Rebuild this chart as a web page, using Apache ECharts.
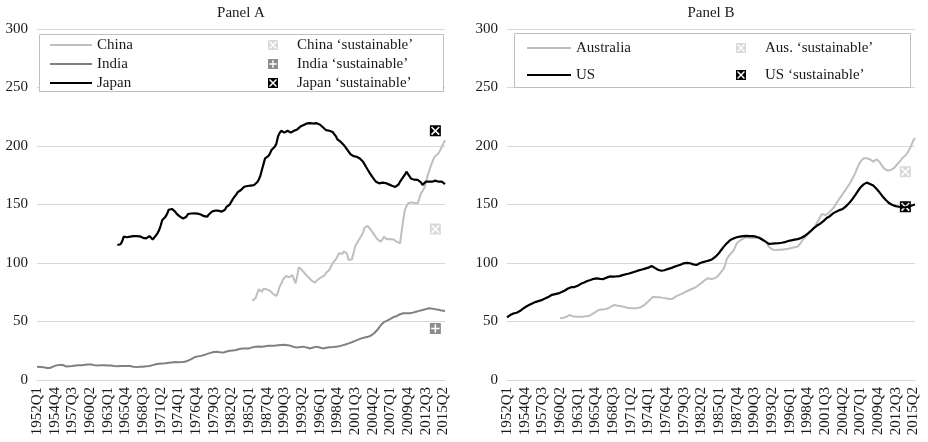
<!DOCTYPE html>
<html>
<head>
<meta charset="utf-8">
<script src="https://cdn.jsdelivr.net/npm/echarts@6/dist/echarts.min.js"></script>
<style>
html, body { margin: 0; padding: 0; background: #fff; }
#debtChart { width: 928px; height: 442px; }
</style>
</head>
<body>
<div id="debtChart"></div>
<script>
// quarterly labels 1952Q1 .. 2015Q3
const quarters = [];
for (let y = 1952; y <= 2015; y++) {
  for (let q = 1; q <= 4; q++) quarters.push(y + "Q" + q);
}
quarters.splice(quarters.indexOf("2015Q3") + 1);

// Panel A
const chinaStart = "1985Q3";
const china = [
  67.8, 68.8,
  69.8, 71.0, 77.5, 76.0,
  75.5, 78.0, 77.0, 77.5,
  77.0, 76.4, 75.0, 73.5,
  72.5, 71.8, 75.0, 79.7,
  82.0, 85.5, 87.0, 88.9,
  88.5, 87.8, 88.8, 89.7,
  86.0, 82.6, 89.0, 96.3,
  95.5, 94.0, 92.3, 90.6,
  89.5, 87.8, 86.2, 84.9,
  84.0, 83.2, 84.5, 86.0,
  86.5, 87.8, 88.0, 89.5,
  91.7, 92.5, 94.0, 97.0,
  99.7, 101.0, 103.1, 105.5,
  108.3, 108.0, 107.8, 110.0,
  111.7, 108.0, 102.6, 102.8,
  103.1, 108.0, 114.0, 116.5,
  119.0, 121.0, 122.4, 126.0,
  130.5, 131.0, 131.6, 130.5,
  128.2, 126.0, 124.0, 122.0,
  120.2, 119.0, 118.2, 120.0,
  122.5, 121.0, 120.2, 121.2,
  120.5, 121.0, 120.0, 119.0,
  118.2, 117.5, 116.8, 116.2,
  136.8, 145.3, 148.5, 151.0,
  151.5, 151.8, 151.6, 151.2,
  150.8, 151.0, 155.0, 159.5,
  161.5, 163.8, 168.0, 173.8,
  178.0, 182.3, 186.0, 189.5,
  191.5, 193.0, 193.8, 196.5,
  199.4, 202.0, 205.0
];

const indiaStart = "1952Q1";
const india = [
  11.4, 11.3, 11.2, 11.2,
  11.0, 10.6, 10.3, 10.0,
  10.3, 10.8, 11.4, 12.0,
  12.5, 12.8, 12.9, 12.8,
  12.8, 12.3, 11.6, 11.5,
  11.8, 12.2, 12.0, 12.3,
  12.4, 12.5, 12.6, 12.5,
  12.7, 12.8, 13.0, 12.9,
  13.2, 13.4, 13.2, 12.8,
  12.5, 12.2, 12.3, 12.5,
  12.6, 12.8, 12.7, 12.5,
  12.4, 12.2, 12.3, 12.1,
  11.9, 11.8, 11.7, 11.8,
  11.9, 12.0, 12.0, 12.1,
  12.0, 11.9, 12.0, 11.6,
  11.3, 11.1, 11.0, 11.1,
  11.3, 11.2, 11.4, 11.5,
  11.7, 11.8, 12.0, 12.3,
  12.7, 13.1, 13.4, 13.6,
  13.8, 14.0, 14.2, 14.3,
  14.4, 14.6, 14.7, 14.8,
  15.0, 15.2, 15.3, 15.4,
  15.2, 15.0, 15.3, 15.4,
  15.6, 16.0, 16.5, 17.1,
  17.8, 18.6, 19.4, 20.0,
  20.2, 20.4, 20.6, 20.8,
  21.3, 21.8, 22.3, 22.8,
  23.2, 23.6, 24.0, 24.1,
  24.2, 24.0, 23.7, 23.5,
  23.4, 23.8, 24.4, 24.8,
  25.0, 25.1, 25.3, 25.5,
  25.6, 26.0, 26.5, 26.8,
  27.0, 27.1, 26.9, 27.0,
  27.0, 27.4, 27.9, 28.2,
  28.5, 28.4, 28.6, 28.5,
  28.4, 28.5, 28.8, 29.1,
  29.3, 29.2, 29.3, 29.4,
  29.3, 29.5, 29.8, 30.0,
  30.0, 30.2, 30.1, 29.9,
  29.7, 29.6, 29.2, 28.6,
  28.2, 27.9, 27.8, 28.1,
  28.3, 28.4, 28.5, 28.2,
  27.7, 27.3, 27.0, 27.4,
  27.8, 28.2, 28.5, 28.2,
  27.8, 27.4, 27.0, 27.2,
  27.5, 27.7, 27.9, 28.0,
  28.1, 28.3, 28.5, 28.7,
  28.9, 29.2, 29.6, 30.0,
  30.4, 30.8, 31.3, 31.8,
  32.3, 32.8, 33.4, 34.0,
  34.5, 35.0, 35.6, 36.0,
  36.3, 36.6, 36.9, 37.3,
  38.0, 39.0, 40.2, 41.3,
  43.0, 45.0, 46.8, 48.4,
  49.5, 50.2, 50.8, 51.3,
  52.2, 53.0, 53.8, 54.4,
  54.7, 55.5, 56.2, 56.8,
  57.0, 57.2, 57.0, 57.0,
  57.0, 57.3, 57.6, 58.0,
  58.4, 58.8, 59.1, 59.5,
  59.8, 60.2, 60.6, 61.0,
  61.3, 61.2, 61.0, 60.7,
  60.4, 60.3, 60.0, 59.6,
  59.3, 59.0, 59.0
];

const japanStart = "1964Q3";
const japan = [
  115.4, 116.0,
  116.0, 118.5, 122.5, 121.5,
  122.0, 121.6, 122.5, 122.0,
  123.0, 122.5, 123.0, 124.0,
  122.8, 121.6, 121.5, 121.3,
  121.0, 121.8, 123.0, 121.4,
  120.0, 121.0, 123.5, 125.4,
  128.0, 132.0, 136.8, 138.0,
  139.6, 142.0, 145.5, 146.7,
  146.2, 145.7, 144.0, 142.0,
  140.5, 139.6, 138.5, 138.0,
  137.3, 139.5, 141.9, 142.2,
  142.3, 142.9, 142.4, 141.9,
  142.2, 142.4, 141.5, 140.8,
  140.0, 140.5, 139.6, 141.5,
  142.9, 144.0, 144.7, 144.8,
  144.6, 144.7, 144.5, 143.9,
  143.9, 145.5, 148.0, 149.6,
  150.0, 152.5, 154.8, 156.7,
  158.5, 160.5, 162.0, 162.4,
  163.8, 165.2, 164.5, 165.8,
  166.5, 166.2, 166.8, 166.5,
  167.5, 169.0, 171.0, 174.5,
  179.5, 184.5, 189.5, 190.5,
  191.4, 193.5, 196.6, 197.8,
  199.4, 202.0, 208.0, 211.0,
  213.0, 212.0, 211.4, 212.8,
  213.0, 212.0, 211.4, 212.4,
  213.0, 212.8, 214.2, 215.5,
  216.6, 216.8, 217.9, 218.5,
  219.3, 218.6, 219.6, 218.4,
  219.2, 220.0, 219.5, 219.3,
  218.4, 217.0, 216.0, 215.0,
  213.5, 212.5, 213.0, 212.5,
  212.0, 211.4, 208.5, 205.7,
  204.8, 203.7, 202.0, 200.8,
  199.0, 197.1, 195.2, 193.2,
  192.2, 191.4, 191.2, 190.8,
  190.8, 189.4, 188.0, 186.6,
  184.2, 181.8, 179.5, 177.2,
  175.2, 173.2, 171.3, 169.5,
  168.5, 168.1, 169.0, 168.7,
  168.0, 168.3, 167.5, 167.2,
  166.8, 166.0, 164.8, 165.0,
  165.4, 167.0, 169.5, 171.5,
  173.2, 175.5, 178.0, 176.0,
  174.4, 172.0, 170.4, 171.2,
  171.6, 171.0, 171.0, 169.0,
  166.8, 168.5, 169.5, 169.8,
  169.5, 169.3, 169.5, 170.0,
  170.4, 169.2, 169.5, 171.0,
  169.5, 168.5, 167.5
];

// Panel B
const australiaStart = "1960Q2";
const australia = [
  52.7, 52.9, 53.2,
  53.3, 54.0, 55.0, 55.6,
  55.0, 54.4, 54.1, 54.0,
  54.2, 54.1, 54.0, 54.1,
  54.3, 54.4, 54.5, 54.7,
  55.5, 56.3, 57.0, 58.0,
  59.0, 59.8, 60.0, 60.3,
  60.4, 60.5, 60.9, 61.3,
  62.2, 63.0, 63.8, 64.1,
  63.8, 63.4, 63.2, 63.0,
  62.8, 62.5, 62.2, 61.8,
  61.5, 61.3, 61.2, 61.3,
  61.2, 61.4, 61.6, 62.2,
  62.7, 63.5, 65.0, 66.0,
  66.9, 68.5, 70.2, 71.2,
  71.0, 70.8, 70.9, 70.7,
  70.5, 70.2, 70.0, 69.8,
  69.5, 69.2, 69.0, 69.4,
  70.2, 71.2, 72.0, 72.6,
  73.2, 73.8, 74.4, 75.2,
  76.0, 76.5, 77.0, 77.8,
  78.4, 79.0, 79.8, 80.8,
  81.8, 82.8, 84.0, 85.2,
  86.0, 86.9, 86.6, 86.3,
  86.3, 86.8, 87.5, 88.3,
  90.0, 91.8, 93.5, 95.4,
  99.5, 104.0, 105.5, 107.5,
  108.3, 110.5, 113.5, 116.8,
  118.0, 119.2, 120.2, 120.8,
  121.2, 122.0, 121.0, 121.6,
  121.8, 121.4, 121.3, 121.5,
  121.4, 121.6, 121.4, 120.5,
  119.3, 118.2, 116.8, 114.0,
  112.8, 111.8, 111.1, 111.0,
  111.2, 111.3, 111.1, 111.4,
  111.6, 111.8, 112.0, 112.2,
  112.5, 112.8, 113.2, 113.5,
  113.8, 114.0, 115.5, 117.5,
  119.7, 121.0, 122.6, 124.0,
  125.5, 127.0, 128.3, 129.6,
  131.8, 134.5, 136.8, 139.5,
  141.9, 141.6, 141.0, 141.2,
  142.5, 143.8, 145.3, 146.8,
  148.5, 151.0, 153.0, 155.0,
  157.0, 159.0, 161.0, 163.0,
  165.2, 167.0, 169.5, 172.0,
  174.5, 177.5, 181.0, 184.0,
  186.6, 188.3, 189.5, 189.6,
  189.5, 189.3, 188.6, 187.5,
  186.6, 187.5, 188.6, 188.2,
  186.4, 184.0, 182.3, 180.5,
  179.4, 178.9, 179.0, 179.6,
  180.0, 181.2, 182.8, 184.6,
  186.0, 187.5, 189.5, 190.6,
  191.8, 193.8, 195.8, 198.5,
  201.5, 205.0, 207.0
];

const usStart = "1952Q1";
const us = [
  53.6, 54.5, 55.5, 56.4,
  56.8, 57.0, 57.5, 58.0,
  58.9, 59.8, 61.0, 62.0,
  62.8, 63.5, 64.3, 65.0,
  65.6, 66.2, 66.8, 67.3,
  67.6, 68.0, 68.5, 69.0,
  69.8, 70.5, 71.2, 71.8,
  72.8, 73.5, 73.4, 73.8,
  74.0, 74.4, 75.2, 76.0,
  76.5, 77.2, 78.2, 79.0,
  79.3, 79.0, 79.4, 79.8,
  80.6, 81.5, 82.2, 82.8,
  83.3, 84.0, 84.6, 85.0,
  85.5, 86.0, 86.5, 86.8,
  86.9, 86.6, 86.5, 86.3,
  86.3, 86.8, 87.5, 88.2,
  88.5, 88.0, 88.4, 88.3,
  88.5, 88.6, 88.8, 89.2,
  89.6, 90.0, 90.4, 90.6,
  91.0, 91.5, 91.9, 92.3,
  92.8, 93.2, 93.7, 94.0,
  94.4, 94.8, 95.2, 95.4,
  96.0, 96.8, 97.4, 96.8,
  95.8, 94.8, 94.2, 93.6,
  93.4, 93.4, 93.8, 94.3,
  94.8, 95.2, 95.6, 96.2,
  96.7, 97.3, 97.6, 98.0,
  98.5, 99.2, 99.7, 99.9,
  100.1, 100.3, 99.8, 99.2,
  98.8, 98.4, 98.3, 99.0,
  99.8, 100.4, 100.8, 101.1,
  101.5, 101.8, 102.2, 102.6,
  103.5, 104.4, 105.6, 106.8,
  108.5, 110.5, 112.2, 114.0,
  115.5, 117.0, 118.5, 119.7,
  120.5, 121.0, 121.5, 122.0,
  122.3, 122.6, 122.8, 123.0,
  123.0, 123.1, 123.1, 123.0,
  123.0, 122.9, 122.8, 122.5,
  122.2, 121.6, 120.8, 119.9,
  119.2, 118.3, 117.3, 116.4,
  116.2, 116.5, 116.7, 116.8,
  116.8, 116.9, 117.1, 117.3,
  117.4, 117.8, 118.3, 118.8,
  119.0, 119.4, 119.8, 120.0,
  120.2, 120.4, 120.8, 121.4,
  122.0, 122.8, 123.8, 124.8,
  125.9, 127.2, 128.5, 129.8,
  131.0, 132.0, 132.8, 133.6,
  134.5, 135.8, 137.1, 138.4,
  139.0, 140.0, 141.2, 142.4,
  143.2, 143.9, 144.6, 145.2,
  145.7, 146.2, 147.2, 148.4,
  149.8, 151.2, 152.8, 154.5,
  156.5, 158.5, 160.6, 162.6,
  164.5, 165.8, 167.2, 168.2,
  168.7, 168.5, 167.6, 167.2,
  166.2, 165.0, 163.4, 161.8,
  160.2, 158.4, 156.6, 155.0,
  153.6, 152.2, 151.0, 150.2,
  149.6, 149.0, 148.6, 148.4,
  148.1, 147.8, 147.7, 147.5,
  147.6, 147.9, 148.2, 148.6,
  149.2, 149.7, 150.0
];

// 'sustainable' levels
const sustainableQuarter = "2014Q1";
const chinaSustainable = 129;
const indiaSustainable = 44;
const japanSustainable = 213;
const australiaSustainable = 178;
const usSustainable = 148;

const FONT = "'Liberation Serif', 'DejaVu Serif', serif";
const TEXT = "#1a1a1a";

function fromQuarter(start, values) {
  const pad = quarters.indexOf(start);
  return quarters.map((q, i) => (i < pad || values[i - pad] == null ? null : values[i - pad]));
}

// square marker with a white cross punched out (rot = 45 gives an X)
function crossMarker(rot) {
  const c = 6, h = 0.85, L = rot ? 5.9 : 4.6;
  const pts = [[-h, -L], [h, -L], [h, -h], [L, -h], [L, h], [h, h], [h, L], [-h, L], [-h, h], [-L, h], [-L, -h], [-h, -h]];
  const a = (rot * Math.PI) / 180;
  const p = pts.reverse().map(([x, y]) => [
    (c + x * Math.cos(a) - y * Math.sin(a)).toFixed(2),
    (c + x * Math.sin(a) + y * Math.cos(a)).toFixed(2),
  ]);
  return "path://M0,0L12,0L12,12L0,12Z M" + p.map((v) => v.join(",")).join("L") + "Z";
}
const xMark = crossMarker(45);
const plusMark = crossMarker(0);

function lineSeries(name, idx, start, values, color, width) {
  return {
    name: name,
    type: "line",
    xAxisIndex: idx,
    yAxisIndex: idx,
    data: fromQuarter(start, values),
    showSymbol: false,
    symbol: "none",
    connectNulls: false,
    itemStyle: { color: color },
    lineStyle: { color: color, width: width },
  };
}

function markSeries(name, idx, value, color, symbol) {
  return {
    name: name,
    type: "scatter",
    xAxisIndex: idx,
    yAxisIndex: idx,
    symbol: symbol,
    symbolSize: 11,
    data: [[sustainableQuarter, value]],
    itemStyle: { color: color, opacity: 1 },
    z: 5,
  };
}

function xAxisFor(idx) {
  return {
    type: "category",
    gridIndex: idx,
    data: quarters,
    boundaryGap: false,
    axisTick: { show: false },
    axisLine: { lineStyle: { color: "#d9d9d9" } },
    axisLabel: { rotate: 90, interval: 10, fontSize: 15, margin: 7, color: TEXT, fontFamily: FONT },
  };
}

function yAxisFor(idx) {
  return {
    type: "value",
    gridIndex: idx,
    min: 0,
    max: 300,
    interval: 50,
    axisLine: { show: false },
    axisTick: { show: false },
    splitLine: { lineStyle: { color: "#d9d9d9", width: 1 } },
    axisLabel: { fontSize: 15, margin: 9, color: TEXT, fontFamily: FONT },
  };
}

const legendText = { fontSize: 15, color: TEXT, fontFamily: FONT, lineHeight: 16 };
const markText = Object.assign({}, legendText, { padding: [0, 0, 0, 14] });

let myChart = echarts.init(document.getElementById("debtChart"));
let options = {
  animation: false,
  backgroundColor: "#fff",
  title: [
    { text: "Panel A", left: 241, top: 6, textAlign: "center", padding: 0,
      textStyle: { fontSize: 15, fontWeight: "normal", color: TEXT, fontFamily: FONT } },
    { text: "Panel B", left: 711, top: 6, textAlign: "center", padding: 0,
      textStyle: { fontSize: 15, fontWeight: "normal", color: TEXT, fontFamily: FONT } },
  ],
  grid: [
    { left: 37, top: 29, width: 408, height: 351 },
    { left: 507, top: 29, width: 408, height: 351 },
  ],
  graphic: [
    { type: "rect", z: 3, shape: { x: 39.5, y: 34.5, width: 404, height: 57 },
      style: { fill: "#fff", stroke: "#bfbfbf", lineWidth: 1 } },
    { type: "rect", z: 3, shape: { x: 514.5, y: 33.5, width: 396, height: 54 },
      style: { fill: "#fff", stroke: "#bfbfbf", lineWidth: 1 } },
  ],
  legend: [
    { orient: "vertical", left: 50, top: 37, padding: 0, itemGap: 3, itemWidth: 42, itemHeight: 2,
      selectedMode: false, textStyle: legendText,
      data: [{ name: "China", icon: "rect" }, { name: "India", icon: "rect" }, { name: "Japan", icon: "rect" }] },
    { orient: "vertical", left: 268, top: 37, padding: 0, itemGap: 3, itemWidth: 10, itemHeight: 10,
      selectedMode: false, textStyle: markText,
      data: [
        { name: "China ‘sustainable’", icon: xMark },
        { name: "India ‘sustainable’", icon: plusMark },
        { name: "Japan ‘sustainable’", icon: xMark },
      ] },
    { orient: "vertical", left: 527, top: 40, padding: 0, itemGap: 11, itemWidth: 44, itemHeight: 2,
      selectedMode: false, textStyle: legendText,
      data: [{ name: "Australia", icon: "rect" }, { name: "US", icon: "rect" }] },
    { orient: "vertical", left: 736, top: 40, padding: 0, itemGap: 11, itemWidth: 10, itemHeight: 10,
      selectedMode: false, textStyle: markText,
      data: [
        { name: "Aus. ‘sustainable’", icon: xMark },
        { name: "US ‘sustainable’", icon: xMark },
      ] },
  ],
  xAxis: [xAxisFor(0), xAxisFor(1)],
  yAxis: [yAxisFor(0), yAxisFor(1)],
  series: [
    lineSeries("China", 0, chinaStart, china, "#bfbfbf", 2),
    lineSeries("India", 0, indiaStart, india, "#808080", 2),
    lineSeries("Japan", 0, japanStart, japan, "#000000", 2.2),
    markSeries("China ‘sustainable’", 0, chinaSustainable, "#d9d9d9", xMark),
    markSeries("India ‘sustainable’", 0, indiaSustainable, "#8c8c8c", plusMark),
    markSeries("Japan ‘sustainable’", 0, japanSustainable, "#000000", xMark),
    lineSeries("Australia", 1, australiaStart, australia, "#bfbfbf", 2),
    lineSeries("US", 1, usStart, us, "#000000", 2.2),
    markSeries("Aus. ‘sustainable’", 1, australiaSustainable, "#d9d9d9", xMark),
    markSeries("US ‘sustainable’", 1, usSustainable, "#000000", xMark),
  ],
};
myChart.setOption(options);
</script>
</body>
</html>
